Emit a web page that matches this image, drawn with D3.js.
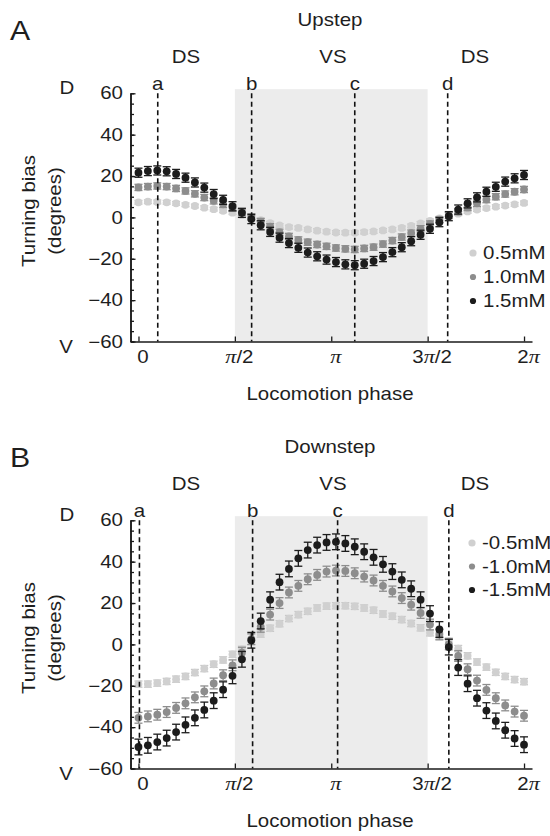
<!DOCTYPE html>
<html><head><meta charset="utf-8">
<script src="https://cdn.jsdelivr.net/npm/d3@7"></script>
<style>
body{margin:0;background:#fff}
svg{display:block}
svg text{font-family:"Liberation Sans",Arial,Helvetica,sans-serif;font-size:17.5px;fill:#1e1e1e}
</style>
</head><body>
<svg id="chart" width="550" height="836"></svg>
<script>
const PI = Math.PI;
// ---- data ----
const phaseTickValues = [0, PI/2, PI, 3*PI/2, 2*PI];
const phaseTickLabels = ["0", "π/2", "π", "3π/2", "2π"];
const yTickValues = [-60, -40, -20, 0, 20, 40, 60];
const nBins = 42; // bins from 0 to 2π

const upLevels = ["0.5mM", "1.0mM", "1.5mM"];
const up05 = [7.3,7.6,7.5,7.3,6.8,6.1,5.5,4.7,4.0,3.2,2.3,1.2,-0.1,-1.3,-2.8,-3.9,-4.7,-5.1,-5.8,-6.4,-6.9,
              -7.3,-7.4,-7.4,-7.1,-6.8,-6.3,-5.8,-5.1,-4.1,-2.9,-1.7,-0.5,0.7,1.8,2.9,3.8,4.5,5.2,5.7,6.3,7.0];
const up10 = [14.5,14.9,15.2,14.9,14.0,12.8,11.4,9.6,8.0,6.3,4.5,2.5,0.3,-2.0,-4.5,-7.2,-9.2,-10.9,-12.0,-13.1,-14.0,
              -14.8,-15.2,-15.5,-15.0,-14.4,-12.9,-11.2,-9.5,-7.6,-5.5,-3.2,-1.1,0.9,2.8,4.8,6.8,8.6,10.0,11.3,12.4,13.5];
const up15 = [21.6,22.4,22.7,22.3,21.0,19.2,16.9,14.4,11.3,8.5,5.4,2.2,-0.8,-3.8,-7.0,-9.8,-12.4,-14.7,-17.0,-18.8,-20.4,
              -21.6,-22.7,-23.1,-22.4,-21.1,-19.2,-16.8,-14.4,-11.5,-8.4,-5.5,-2.3,0.6,3.8,6.8,9.7,12.4,14.8,17.3,18.9,20.5];
const upErr = [0.9, 1.5, 2.2];

const downLevels = ["-0.5mM", "-1.0mM", "-1.5mM"];
const dn05 = [-19.2,-19.2,-18.7,-17.9,-16.8,-15.5,-13.6,-11.7,-9.6,-7.5,-4.8,-2.4,1.5,5.0,7.8,10.0,12.5,14.4,16.0,17.6,18.5,
              18.7,18.7,18.4,17.6,16.5,14.7,13.6,12.0,10.1,8.0,5.6,4.0,1.6,-2.0,-5.5,-8.5,-11.0,-13.5,-15.5,-17.0,-18.0];
const dn10 = [-35.5,-34.8,-34.0,-32.7,-30.7,-28.5,-25.6,-22.7,-18.9,-14.9,-10.1,-4.0,2.5,8.5,14.4,20.0,25.1,28.3,31.5,33.6,35.2,
              35.7,35.5,34.4,32.8,30.9,28.3,25.6,22.4,19.2,15.2,9.6,4.8,0.0,-5.6,-12.0,-17.5,-22.0,-26.0,-29.5,-32.5,-34.5];
const dn15 = [-49.6,-48.8,-47.2,-45.3,-42.4,-38.9,-35.5,-31.7,-27.2,-21.9,-15.2,-7.2,2.0,11.3,21.6,30.1,36.5,41.6,45.6,48.0,49.3,
              49.6,48.8,47.2,44.8,42.1,38.7,35.2,31.2,26.9,21.6,14.9,7.2,-1.3,-11.2,-19.0,-26.0,-32.0,-37.0,-41.5,-45.5,-48.5];
const dnErr = [1.5, 2.6, 3.8];

const lineNames = ["a", "b", "c", "d"];
const upLinePhases = [0.100*PI, 0.587*PI, 1.122*PI, 1.604*PI];
const dnLinePhases = [0.005*PI, 0.592*PI, 1.033*PI, 1.610*PI];
const regionNames = ["DS", "VS", "DS"];
const shadeRange = [PI/2, 3*PI/2];

// ---- styles / layout ----
const colors = ["#d0d0d0", "#8d8d8d", "#1c1c1c"];
const SX = 1.17;
const svg = d3.select("#chart");

const panels = [
  {top: 0, letter: "A", title: "Upstep", series: [up05, up10, up15], err: upErr, levels: upLevels,
   lines: upLinePhases, legendY: [253, 277, 301], legendX: 473},
  {top: 427, letter: "B", title: "Downstep", series: [dn05, dn10, dn15], err: dnErr, levels: downLevels,
   lines: dnLinePhases, legendY: [543, 566.5, 590], legendX: 472}
];

const phases = d3.range(nBins).map(k => k * 2 * PI / (nBins - 1));

function addText(g, x, y, str, o = {}) {
  return g.append("text")
    .attr("transform", `translate(${x},${y}) rotate(${o.rot || 0}) scale(${o.sx || SX},1)`)
    .attr("text-anchor", o.anchor || "middle")
    .style("font-size", (o.size || 17.5) + "px")
    .text(str);
}
function stretchAxisText(sel, dx) {
  sel.each(function() {
    const t = d3.select(this);
    const x = +t.attr("x") || 0, y = +t.attr("y") || 0;
    t.attr("x", 0).attr("y", 0).attr("transform", `translate(${x + (dx || 0)},${y}) scale(${SX},1)`);
  });
}

panels.forEach(p => {
  const g = svg.append("g");
  const x = d3.scaleLinear().domain([-0.13, 2*PI + 0.13]).range([130.5, 532]);
  const y = d3.scaleLinear().domain([-60, 60]).range([341.5 + p.top, 93.3 + p.top]);

  // shaded VS region
  g.append("rect")
    .attr("x", x(shadeRange[0])).attr("width", x(shadeRange[1]) - x(shadeRange[0]))
    .attr("y", y(62)).attr("height", y(-60) - y(62))
    .attr("fill", "#ececec");

  // series
  p.series.forEach((vals, si) => {
    const sg = g.append("g");
    const e = p.err[si];
    const data = vals.map((v, k) => ({ph: phases[k], v}));
    const eb = sg.selectAll("g.eb").data(data).join("g")
      .attr("stroke", si === 0 ? "#c8c8c8" : colors[si]).attr("stroke-width", 1.3);
    eb.append("line").attr("x1", d => x(d.ph)).attr("x2", d => x(d.ph))
      .attr("y1", d => y(d.v - e)).attr("y2", d => y(d.v + e));
    eb.append("line").attr("x1", d => x(d.ph) - 4).attr("x2", d => x(d.ph) + 4)
      .attr("y1", d => y(d.v + e)).attr("y2", d => y(d.v + e));
    eb.append("line").attr("x1", d => x(d.ph) - 4).attr("x2", d => x(d.ph) + 4)
      .attr("y1", d => y(d.v - e)).attr("y2", d => y(d.v - e));
    sg.selectAll("circle").data(data).join("circle")
      .attr("cx", d => x(d.ph)).attr("cy", d => y(d.v)).attr("r", 3.9)
      .attr("fill", colors[si]);
  });

  // dashed phase lines
  g.selectAll("line.ph").data(p.lines).join("line")
    .attr("x1", d => x(d)).attr("x2", d => x(d))
    .attr("y1", y(60)).attr("y2", y(-60))
    .attr("stroke", "#111").attr("stroke-width", 1.6).attr("stroke-dasharray", "5,3.5");
  p.lines.forEach((ph, i) => addText(g, x(ph), 90 + p.top, lineNames[i]));

  // axes
  const fmt = d => d < 0 ? "\u2212" + Math.abs(d) : String(d);
  const ax = g.append("g").attr("transform", `translate(${x.range()[0]},0)`);
  ax.call(d3.axisLeft(y).tickValues(d3.range(-60, 61, 5)).tickSize(-3.5).tickSizeOuter(0).tickFormat(""));
  const ay = g.append("g").attr("transform", `translate(${x.range()[0]},0)`)
    .call(d3.axisLeft(y).tickValues(yTickValues).tickSize(-5).tickSizeOuter(0).tickPadding(7.5).tickFormat(fmt));
  stretchAxisText(ay.selectAll("text"), 0);

  const axb = g.append("g").attr("transform", `translate(0,${y(-60)})`)
    .call(d3.axisBottom(x).tickValues(phaseTickValues).tickSize(-5).tickSizeOuter(0).tickPadding(9.2)
      .tickFormat((d, i) => phaseTickLabels[i]));
  axb.selectAll("text").each(function(d, i) {
    const t = d3.select(this);
    const lab = phaseTickLabels[i];
    t.text(null);
    const parts = lab.split("π");
    parts.forEach((part, j) => {
      if (part) t.append("tspan").text(part);
      if (j < parts.length - 1)
        t.append("tspan").text("π")
          .style("font-family", '"Liberation Serif","Times New Roman",serif')
          .style("font-style", "italic").style("font-size", "19px");
    });
  });
  stretchAxisText(axb.selectAll("text"), 4);
  [ax, ay, axb].forEach(a => {
    a.select(".domain").attr("stroke", "#1a1a1a").attr("stroke-width", 1.5);
    a.selectAll(".tick line").attr("stroke", "#1a1a1a").attr("stroke-width", 1.3);
  });

  // texts
  addText(g, 10, 40 + p.top, p.letter, {anchor: "start", size: 28, sx: 1.08});
  addText(g, 330, 25.5 + p.top, p.title);
  [186, 333, 475].forEach((cx, i) => addText(g, cx, 63 + p.top, regionNames[i]));
  addText(g, 67, 94 + p.top, "D");
  addText(g, 66, 353 + p.top, "V");
  addText(g, 330, 400 + p.top, "Locomotion phase");
  addText(g, 34.5, 211 + p.top, "Turning bias", {rot: -90});
  addText(g, 61, 211 + p.top, "(degrees)", {rot: -90});

  // legend
  const legR = [3.6, 3.1, 3.1];
  p.levels.forEach((lv, i) => {
    g.append("circle").attr("cx", p.legendX).attr("cy", p.legendY[i]).attr("r", legR[i]).attr("fill", colors[i]);
    addText(g, p.legendX + 10, p.legendY[i] + 6.2, lv, {anchor: "start"});
  });
});
</script>
</body></html>
